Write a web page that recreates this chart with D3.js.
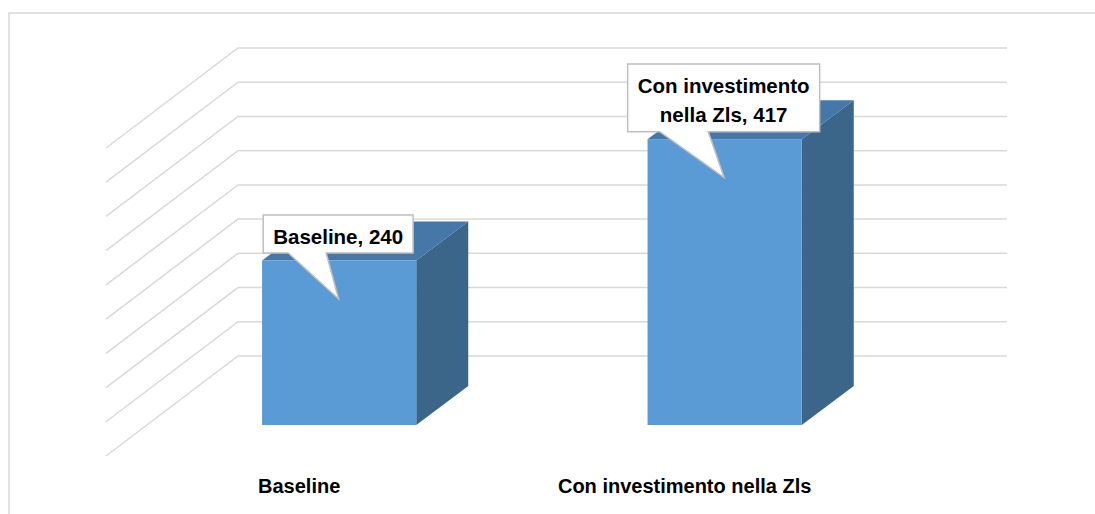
<!DOCTYPE html>
<html>
<head>
<meta charset="utf-8">
<script src="https://cdn.jsdelivr.net/npm/d3@7/dist/d3.min.js"></script>
<style>
  html, body { margin: 0; padding: 0; background: #ffffff; }
  svg { display: block; }
  text { font-family: "Liberation Sans", Arial, sans-serif; font-weight: bold; fill: #000; }
</style>
</head>
<body>
<svg id="chart" width="1095" height="514"></svg>
<script>
// Data
const categories = ["Baseline", "Con investimento nella Zls"];
const values = [240, 417];
const gridTicks = [50, 100, 150, 200, 250, 300, 350, 400, 450, 500];

const W = 1095, H = 514;
const svg = d3.select("#chart");

// Chart area frame
svg.append("path")
  .attr("d", `M9,${H} L9,13 L${W},13`)
  .attr("fill", "none")
  .attr("stroke", "#d9d9d9")
  .attr("stroke-width", 1.5);

// Oblique 3D geometry
const depth = { dx: 52, dy: -39 };          // bar depth offset
const wallBack = { x0: 238, x1: 1007 };     // back wall horizontal extent
const sideWall = { dx: -132, dy: 100 };     // side wall runs toward the viewer

// Scales
const x = d3.scaleBand()
  .domain(categories)
  .range([146.4, 917.4])
  .paddingInner(0.6)
  .paddingOuter(0.3);

const yFront = d3.scaleLinear().domain([0, 500]).range([425, 82.25]);
const yWall = d3.scaleLinear().domain([0, 500]).range([390.2, 48]);

// Gridlines: back wall + side wall
const grid = svg.append("g").attr("class", "grid")
  .attr("fill", "none")
  .attr("stroke", "#d9d9d9")
  .attr("stroke-width", 1.5);

grid.selectAll("path")
  .data(gridTicks)
  .join("path")
  .attr("d", v => {
    const y = yWall(v);
    return `M${wallBack.x0 + sideWall.dx},${y + sideWall.dy} L${wallBack.x0},${y} L${wallBack.x1},${y}`;
  });

// Bars
const bars = svg.append("g").attr("class", "bars");
const barData = categories.map((c, i) => ({ cat: c, value: values[i] }));

const barG = bars.selectAll("g").data(barData).join("g");

barG.append("path") // side face
  .attr("fill", "#3b6589")
  .attr("d", d => {
    const x1 = x(d.cat) + x.bandwidth();
    const yt = yFront(d.value), yb = yFront(0);
    return `M${x1},${yt} L${x1 + depth.dx},${yt + depth.dy} L${x1 + depth.dx},${yb + depth.dy} L${x1},${yb} Z`;
  });

barG.append("path") // top face
  .attr("fill", "#4677a9")
  .attr("d", d => {
    const x0 = x(d.cat), x1 = x0 + x.bandwidth();
    const yt = yFront(d.value);
    return `M${x0},${yt} L${x0 + depth.dx},${yt + depth.dy} L${x1 + depth.dx},${yt + depth.dy} L${x1},${yt} Z`;
  });

barG.append("rect") // front face
  .attr("fill", "#5b9bd5")
  .attr("x", d => x(d.cat))
  .attr("y", d => yFront(d.value))
  .attr("width", x.bandwidth())
  .attr("height", d => yFront(0) - yFront(d.value));

// Category labels along the front of the floor
svg.append("g").attr("class", "x-labels")
  .selectAll("text")
  .data(categories)
  .join("text")
  .attr("x", c => x(c) + x.bandwidth() / 2 - 40)
  .attr("y", 493)
  .attr("text-anchor", "middle")
  .attr("font-size", 20)
  .text(c => c);

// Data callouts
const callouts = svg.append("g").attr("class", "callouts");
const fontSize = 20.5, lineH = 28.6, maxLine = 190, padX = 10;

function wrapWords(str) {
  const probe = svg.append("text").attr("font-size", fontSize);
  const words = str.split(" ");
  const lines = [];
  let cur = "";
  words.forEach(w => {
    const test = cur ? cur + " " + w : w;
    probe.text(test);
    if (probe.node().getComputedTextLength() > maxLine && cur) {
      lines.push(cur);
      cur = w;
    } else {
      cur = test;
    }
  });
  if (cur) lines.push(cur);
  probe.text(lines.reduce((a, b) => a.length > b.length ? a : b));
  const widths = lines.map(l => { probe.text(l); return probe.node().getComputedTextLength(); });
  probe.remove();
  return { lines, width: d3.max(widths) };
}

barData.forEach(d => {
  const label = `${d.cat}, ${d.value}`;
  const { lines, width } = wrapWords(label);
  const cx = x(d.cat) + x.bandwidth() / 2 - 1;
  const tipX = cx + 0.5;
  const tipY = yFront(d.value) + 38.5;
  const boxW = width + padX * 2;
  const boxH = 38 + (lines.length - 1) * 29.6;
  const bottom = tipY - 46;
  const top = bottom - boxH;
  const left = cx - boxW / 2, right = cx + boxW / 2;
  const bl = left + boxW * 0.167, br = left + boxW * 0.42;

  const g = callouts.append("g");
  g.append("path")
    .attr("d", `M${left},${top} L${right},${top} L${right},${bottom} L${br},${bottom} L${tipX},${tipY} L${bl},${bottom} L${left},${bottom} Z`)
    .attr("fill", "#ffffff")
    .attr("stroke", "#bfbfbf")
    .attr("stroke-width", 1.5)
    .attr("stroke-linejoin", "miter");

  g.selectAll("text")
    .data(lines)
    .join("text")
    .attr("x", cx)
    .attr("y", (l, i) => top + 29 + i * lineH)
    .attr("text-anchor", "middle")
    .attr("font-size", fontSize)
    .text(l => l);
});
</script>
</body>
</html>
